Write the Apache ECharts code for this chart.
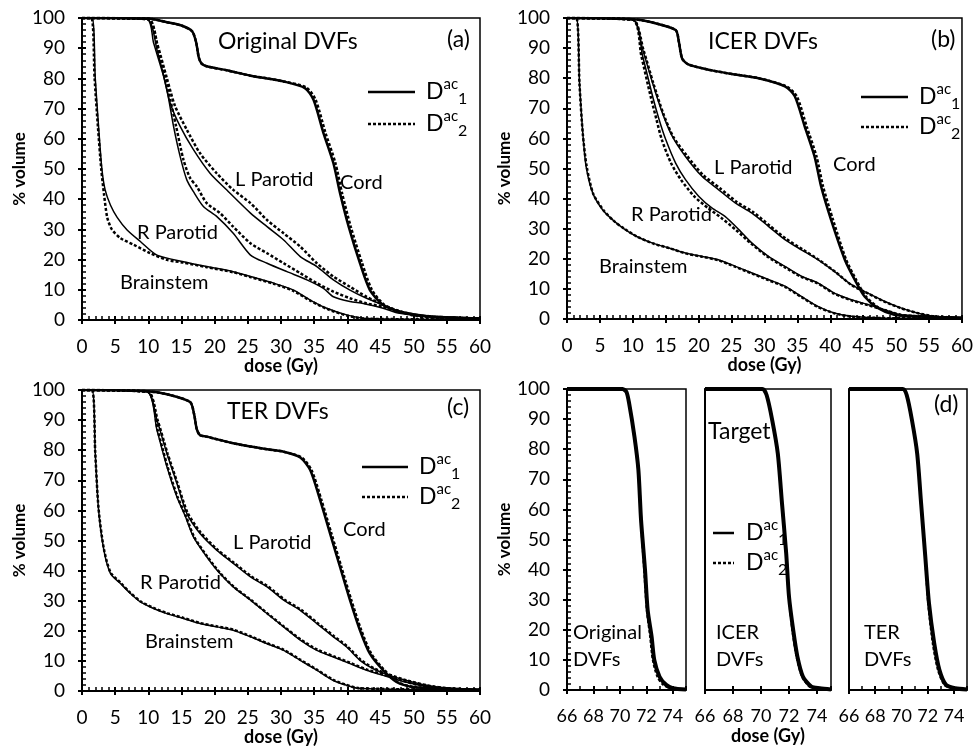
<!DOCTYPE html>
<html>
<head>
<meta charset="utf-8">
<script src="https://cdn.jsdelivr.net/npm/echarts@6/dist/echarts.min.js"></script>
<style>
html, body { margin: 0; padding: 0; background: #fff; }
#main { width: 976px; height: 748px; }
</style>
</head>
<body>
<div id="main"></div>
<script>
// ---- data: [dose (Gy), % volume] ----
// (a) Original DVFs
var cordA1 = [[0,100],[10,99.8],[12.8,98.6],[15,97.5],[16.6,95.6],[17.2,92],[17.6,87],[18,85],[18.8,84],[21.8,82.7],[25.4,80.9],[27.9,80],[30.4,79],[33.6,76.8],[34.9,72.9],[36.4,61.9],[37.9,51.9],[38.9,42],[40.2,30.9],[41.9,18.8],[43.4,9.9],[45.4,5],[47.9,2.8],[50.5,1.7],[53,1.1],[60,0.5]];
var cordA2 = [[0,100],[10,99.8],[12.8,98.6],[15,97.5],[16.6,95.6],[17.2,92],[17.6,87],[18,85],[18.8,84],[21.8,82.7],[25.4,80.9],[27.9,80],[30.4,79],[33.8,77],[35.2,73],[36.7,62],[38.2,52],[39.2,42],[40.5,31],[42.2,19],[43.7,10],[45.6,5],[48,2.8],[50.5,1.7],[53,1.1],[60,0.5]];
var lparA1 = [[0,100],[9.8,99.6],[10.8,91.7],[12.3,80.7],[13.3,71.8],[14.8,64.1],[16.8,56.4],[19.3,48.6],[21.8,43.1],[25.4,35.4],[27.9,30.9],[30.4,26.5],[32.9,21],[35.4,17.7],[37.9,13.3],[40.4,9.9],[42.9,7.2],[45.4,5],[47.9,2.8],[50.5,1.3],[55,0.7],[60,0.5]];
var lparA2 = [[0,100],[10,99.6],[11.3,91.7],[12.8,80],[14,71],[15.8,63],[17.8,55.2],[20.3,48.6],[22.8,43.1],[25.4,38.7],[27.9,33.1],[30.4,28.7],[32.9,24.3],[35.4,18.8],[37.9,14.4],[40.4,11],[42.9,7.7],[45.4,5],[47.9,2.8],[50.5,1.3],[55,0.7],[60,0.5]];
var rparA1 = [[0,100],[9.8,99.6],[11.3,89.5],[12.8,76.2],[13.8,64.1],[14.8,54.1],[15.8,46.4],[16.8,42.5],[18.3,37.6],[20.3,34.3],[22.8,28.7],[25.4,21.5],[27.9,18.8],[30.9,16],[33.9,13.3],[36.4,10.5],[37.9,7.7],[40.4,6.1],[42.4,5.5],[45.4,3.9],[47.9,2.2],[53,1.1],[60,0.5]];
var rparA2 = [[0,100],[10,99.6],[11.5,89.5],[13,76],[14.2,64],[15.3,53],[16.3,47],[17.3,44.2],[18.8,38.7],[20.8,35.4],[22.8,30.9],[25.4,25.4],[27.9,22.1],[30.4,18.8],[32.9,15.5],[35.4,12.2],[37.9,9.4],[40.4,7.2],[42.9,5.5],[45.4,4.4],[47.9,2.6],[53,1.1],[60,0.5]];
var brainA1 = [[0,100],[1.5,100],[2,80],[2.5,64],[3,50],[3.5,43],[4.3,38],[5.3,34],[6.8,29.8],[8.8,26],[11.3,21.5],[15.3,19.3],[18.8,17.7],[22.8,16],[25.4,14.4],[28.9,12.2],[31.9,9.9],[34.4,6.6],[36.9,3.9],[39.9,1.7],[42.9,0.5],[60,0.2]];
var brainA2 = [[0,100],[1.4,100],[1.9,80],[2.4,64],[2.9,50],[3.3,42],[3.8,34],[4.5,30],[5.8,27.1],[7.8,24.9],[10.3,22.1],[12.8,19.9],[15.3,19],[18.8,17.5],[22.8,15.8],[25.4,14.2],[28.9,12],[31.9,9.6],[34.4,6.4],[36.9,3.7],[39.9,1.5],[42.9,0.4],[60,0.2]];

// (b) ICER DVFs
var cordB1 = [[0,100],[10,99.6],[13,98.5],[16.5,96],[17,92],[17.5,86.5],[18.5,84.5],[22,82.6],[25.6,81.2],[29.1,80],[33.1,77.3],[34.6,74],[36.1,64],[37.6,54],[38.6,44],[40.1,33],[42.2,19.7],[43.7,13.1],[45.2,7.5],[47.2,3.7],[49.7,1.4],[53.2,0.9],[60,0.3]];
var cordB2 = [[0,100],[10,99.6],[13,98.5],[16.5,96],[17,92],[17.5,86.5],[18.5,84.5],[22,82.6],[25.6,81.2],[29.1,80],[33.3,77.3],[34.9,74],[36.4,64],[37.9,54],[38.9,44],[40.4,33],[42.4,19.7],[43.9,13.1],[45.4,7.5],[47.4,3.7],[49.9,1.4],[53.2,0.9],[60,0.3]];
var lparB1 = [[0,100],[10,99.4],[11.5,89.5],[13,78.4],[14.5,68.4],[16,60.7],[18,54],[20.5,47.4],[23,43],[25.6,38.5],[28.1,35.2],[30.6,30.8],[33.1,26.4],[35.6,23],[38.1,19.7],[40.6,15.8],[43.2,11.4],[45.7,8.6],[48.2,5.9],[50.7,3.7],[53.2,2],[55.7,0.9],[60,0.4]];
var lparB2 = [[0,100],[10,99.4],[11.6,89.5],[13.1,78.4],[14.6,68.4],[16.1,60.7],[18.2,54.3],[20.7,47.8],[23.2,43.5],[25.8,38.9],[28.3,35.5],[30.8,31],[33.3,26.6],[35.8,23.1],[38.3,19.6],[40.8,15.6],[43.2,11.3],[45.7,8.5],[48.2,5.8],[50.7,3.6],[53.2,2],[55.7,0.9],[60,0.4]];
var rparB1 = [[0,100],[10,99.4],[11.5,87.3],[13,74],[14,66.2],[15,59.6],[16.5,51.8],[18,46.3],[20,40.8],[22,36.9],[24,34.1],[26.1,29.7],[28.1,25.2],[30.6,20.8],[33.1,17.5],[35.6,14.2],[38.1,12],[40.6,8.6],[43.2,6.4],[45.7,4.8],[48.2,3.1],[50.7,1.4],[53.2,0.9],[60,0.4]];
var rparB2 = [[0,100],[10,99.4],[11.3,87.3],[12.7,74],[13.6,66.2],[14.4,59.6],[15.8,51.8],[17.3,46.3],[19.3,40.8],[21.4,36.9],[23.5,33.5],[25.7,29.5],[27.9,25.2],[30.4,20.8],[33,17.3],[35.6,14],[38.1,11.8],[40.6,8.4],[43.2,6.2],[45.7,4.6],[48.2,3],[50.7,1.4],[53.2,0.9],[60,0.4]];
var brainB1 = [[0,100],[1.4,100],[1.9,78.4],[2.4,61.8],[2.9,50.7],[3.9,41.9],[5.4,36.3],[6.9,33],[8.5,30.2],[10.5,27.5],[13,25.2],[15.5,23.6],[18,21.9],[20.5,20.8],[23,19.7],[25.6,17.5],[28.1,15.3],[30.6,13.1],[33.1,10.9],[35.6,7.5],[38.1,4.2],[40.6,2],[43.2,0.9],[48.2,0.3],[60,0.2]];
var brainB2 = [[0,100],[1.4,100],[1.9,78],[2.4,61.5],[3,50.5],[4,41.5],[5.6,36],[7.1,32.6],[8.7,30],[10.7,27.3],[13.2,25],[15.6,23.5],[18,21.8],[20.5,20.7],[23,19.5],[25.6,17.3],[28.1,15.1],[30.6,12.9],[33.1,10.7],[35.6,7.3],[38.1,4],[40.6,1.9],[43.2,0.8],[48.2,0.3],[60,0.2]];

// (c) TER DVFs
var cordC1 = [[0,100],[9.8,99.6],[13,98.5],[16.3,96],[16.9,92],[17.3,87],[17.8,85],[18.8,84.5],[22.8,82.3],[27.9,80.3],[30.4,79.5],[32.9,77.6],[34.4,73.4],[35.9,63.4],[37.4,52.3],[38.9,41.2],[40.4,30.2],[41.9,20.2],[43.4,12.4],[45.4,6.9],[47.4,3],[49.9,1.3],[60,0.4]];
var cordC2 = [[0,100],[9.8,99.6],[13,98.5],[16.3,96],[16.9,92],[17.3,87],[17.8,85],[18.8,84.5],[22.8,82.3],[27.9,80.3],[30.4,79.5],[33.1,77.6],[34.6,73.4],[36.1,63.4],[37.6,52.3],[39.1,41.2],[40.6,30.2],[42.1,20.2],[43.6,12.4],[45.6,6.9],[47.6,3],[50,1.3],[60,0.4]];
var lparC1 = [[0,100],[9.8,99.4],[11.3,90],[12.8,78.9],[14.3,69],[15.8,59],[17.8,52.3],[20.3,46.8],[22.8,42.4],[25.4,37.9],[27.9,34.6],[30.4,30.2],[32.9,26.8],[35.4,22.4],[37.9,18],[39.9,14.6],[41.9,10.2],[43.9,7.4],[46.4,5.2],[48.9,3.5],[52,1.9],[55.5,0.8],[60,0.4]];
var lparC2 = [[0,100],[9.9,99.4],[11.4,90],[12.9,78.9],[14.4,69],[15.9,59.3],[17.9,52.6],[20.4,47],[22.9,42.6],[25.5,38.1],[28,34.8],[30.5,30.4],[33,27],[35.5,22.6],[38,18.2],[40,14.8],[42,10.4],[44,7.5],[46.5,5.3],[49,3.5],[52,1.9],[55.5,0.8],[60,0.4]];
var rparC1 = [[0,100],[9.8,99.4],[11.3,86.7],[12.8,74.5],[14.3,64.5],[15.6,57.9],[16.8,51.2],[18.8,44.6],[20.8,39],[22.8,34.6],[25.4,30.2],[27.9,25.7],[30.4,21.3],[32.9,16.9],[35.4,13.5],[37.9,11.3],[40.4,9.1],[42.9,6.9],[45.4,5.2],[47.9,3.5],[51,1.9],[55.5,0.8],[60,0.4]];
var rparC2 = [[0,100],[9.9,99.4],[11.4,86.7],[12.9,74.5],[14.4,64.5],[15.7,57.9],[16.9,51.2],[18.9,44.6],[20.9,39],[22.9,34.6],[25.5,30.2],[28,25.7],[30.5,21.3],[33,17.1],[35.5,13.7],[38,11.5],[40.5,9.3],[43,7.1],[45.5,5.4],[48,3.6],[51,1.9],[55.5,0.8],[60,0.4]];
var brainC1 = [[0,100],[1.5,100],[2,78.9],[2.5,60.1],[3.3,46.8],[4.3,39],[5.8,35.7],[7.3,32.4],[8.8,29.6],[10.8,27.4],[12.8,25.7],[15.3,24.1],[17.8,22.4],[20.3,21.3],[22.8,20.2],[25.4,18],[27.9,15.7],[30.4,13.5],[32.9,10.2],[35.4,6.9],[37.9,3.5],[39.9,1.9],[41.9,0.8],[60,0.3]];
var brainC2 = [[0,100],[1.5,100],[2,79],[2.5,60.5],[3.3,47.2],[4.3,39.4],[5.8,36],[7.3,32.6],[8.8,29.8],[10.8,27.6],[12.8,25.9],[15.3,24.3],[17.8,22.6],[20.3,21.5],[22.8,20.4],[25.4,18.2],[27.9,15.9],[30.4,13.7],[32.9,10.4],[35.4,7.1],[37.9,3.7],[39.9,2],[41.9,0.9],[60,0.3]];

// (d) Target
var tgtOrig1 = [[66,100],[70.2,100],[70.5,99],[70.7,95.2],[71.1,84.2],[71.4,73.1],[71.6,56.5],[71.9,39.9],[72.1,26.6],[72.4,17.7],[72.6,10],[73,4.4],[73.5,1.7],[74,0.6],[75,0.2]];
var tgtOrig2 = [[66,100],[70.2,100],[70.5,99],[70.7,95.2],[71.1,84.2],[71.4,73.1],[71.6,56.5],[71.85,39.9],[72.05,26.6],[72.3,17.7],[72.5,10],[72.85,4.4],[73.3,1.7],[73.9,0.6],[75,0.2]];
var tgtIcer1 = [[66,100],[70.1,100],[70.4,98],[70.8,89.7],[71.2,78.6],[71.5,62],[71.8,45.4],[72,31],[72.3,19.9],[72.6,11.1],[73,4.4],[73.6,1.1],[74.2,0.6],[75,0.2]];
var tgtIcer2 = [[66,100],[70.1,100],[70.4,98],[70.8,89.7],[71.2,78.6],[71.5,62],[71.8,45.4],[72,31],[72.25,19.9],[72.55,11.1],[72.95,4.4],[73.5,1.1],[74.2,0.6],[75,0.2]];
var tgtTer1 = [[66,100],[70.1,100],[70.4,98],[70.8,89.7],[71.2,78.6],[71.5,62],[71.8,45.4],[72.1,28.8],[72.5,15.5],[72.9,6.6],[73.4,1.7],[74.1,0.6],[75,0.2]];
var tgtTer2 = [[66,100],[70.1,100],[70.4,98],[70.8,89.7],[71.2,78.6],[71.5,62],[71.8,45.4],[72.05,28.8],[72.4,15.5],[72.8,6.6],[73.3,1.7],[74,0.6],[75,0.2]];

var FONT = 'Lato';
var myChart = echarts.init(document.getElementById('main'));

var grids = [
  { left: 82, top: 18, width: 398, height: 302 },
  { left: 567, top: 18, width: 397, height: 301 },
  { left: 82, top: 390, width: 398, height: 301 },
  { left: 567, top: 389, width: 119, height: 301 },
  { left: 705, top: 389, width: 126, height: 301 },
  { left: 849, top: 389, width: 118, height: 301 }
].map(function (g) {
  return Object.assign({ show: true, borderColor: '#000', borderWidth: 1.5, backgroundColor: 'transparent' }, g);
});

var xAxes = [], yAxes = [];
var lineBlack = { color: '#000', width: 2 };

// main axis (labels, outer ticks) + second axis with inner ticks, so ticks cross the line
function addX(gi, min, max, interval, minorSplit, name, fs) {
  xAxes.push({
    gridIndex: gi, type: 'value', position: 'bottom', min: min, max: max, interval: interval,
    axisLine: { lineStyle: lineBlack },
    axisTick: { length: 4, lineStyle: lineBlack },
    axisLabel: { color: '#000', fontSize: fs, fontFamily: FONT, margin: 17, showMaxLabel: max !== 75 },
    splitLine: { show: false },
    name: name, nameLocation: 'middle', nameGap: 37,
    nameTextStyle: { color: '#000', fontSize: 18, fontWeight: 'bold', fontFamily: FONT }
  });
  var idx = xAxes.length - 1;
  xAxes.push({
    gridIndex: gi, type: 'value', position: 'bottom', min: min, max: max, interval: interval,
    axisLine: { show: false },
    axisTick: { inside: true, length: 4, lineStyle: lineBlack },
    minorTick: { show: minorSplit > 0, splitNumber: minorSplit || 2, length: 4, lineStyle: { color: '#000', width: 1.5 } },
    axisLabel: { show: false }, splitLine: { show: false }
  });
  return idx;
}
function addY(gi, withTicks) {
  yAxes.push({
    gridIndex: gi, type: 'value', position: 'left', min: 0, max: 100, interval: 10,
    axisLine: { lineStyle: lineBlack },
    axisTick: { show: withTicks, length: 4, lineStyle: lineBlack },
    axisLabel: { show: withTicks, color: '#000', fontSize: 19, fontFamily: FONT, margin: 17 },
    splitLine: { show: false },
    name: withTicks ? '% volume' : '', nameLocation: 'middle', nameGap: 54,
    nameTextStyle: { color: '#000', fontSize: 17, fontWeight: 'bold', fontFamily: FONT }
  });
  var idx = yAxes.length - 1;
  if (withTicks) {
    yAxes.push({
      gridIndex: gi, type: 'value', position: 'left', min: 0, max: 100, interval: 10,
      axisLine: { show: false },
      axisTick: { inside: true, length: 4, lineStyle: lineBlack },
      minorTick: { show: true, splitNumber: 5, length: 4, lineStyle: { color: '#000', width: 1.5 } },
      axisLabel: { show: false }, splitLine: { show: false }
    });
  }
  return idx;
}

var series = [];
function addLine(data, xi, yi, width, dotted) {
  series.push({
    type: 'line', data: data, xAxisIndex: xi, yAxisIndex: yi,
    symbol: 'none', smooth: 0.25, silent: true,
    z: dotted ? 2 : 3,
    lineStyle: { color: '#000', width: width, type: dotted ? [3, 2] : 'solid' }
  });
}

var organPanels = [
  [cordA1, cordA2, lparA1, lparA2, rparA1, rparA2, brainA1, brainA2],
  [cordB1, cordB2, lparB1, lparB2, rparB1, rparB2, brainB1, brainB2],
  [cordC1, cordC2, lparC1, lparC2, rparC1, rparC2, brainC1, brainC2]
];
organPanels.forEach(function (p, gi) {
  var xi = addX(gi, 0, 60, 5, 5, 'dose (Gy)', 19);
  var yi = addY(gi, true);
  addLine(p[1], xi, yi, 2.5, true);
  addLine(p[0], xi, yi, 2.5, false);
  for (var k = 2; k < 8; k += 2) {
    addLine(p[k + 1], xi, yi, 2.5, true);
    addLine(p[k], xi, yi, 1.5, false);
  }
});

var targets = [[tgtOrig1, tgtOrig2], [tgtIcer1, tgtIcer2], [tgtTer1, tgtTer2]];
targets.forEach(function (t, j) {
  var gi = 3 + j;
  var xi = addX(gi, 66, 75, 2, j === 1 ? 0 : 2, j === 1 ? 'dose (Gy)' : '', 18);
  var yi = addY(gi, j === 0);
  addLine(t[1], xi, yi, 2.5, true);
  addLine(t[0], xi, yi, 4, false);
});

// annotations
var graphics = [];
function txt(x, y, s, size) {
  graphics.push({ type: 'text', x: x, y: y, silent: true,
    style: { text: s, fill: '#000', font: size + 'px ' + FONT, textAlign: 'left', textVerticalAlign: 'middle' } });
}
function legendAt(x1, x2, y1, y2, tx) {
  graphics.push({ type: 'line', silent: true, shape: { x1: x1, y1: y1, x2: x2, y2: y1 }, style: { stroke: '#000', lineWidth: 2.5 } });
  graphics.push({ type: 'line', silent: true, shape: { x1: x1, y1: y2, x2: x2, y2: y2 }, style: { stroke: '#000', lineWidth: 2.5, lineDash: [3, 2] } });
  [[y1, '1'], [y2, '2']].forEach(function (r) {
    graphics.push({ type: 'text', x: tx, y: r[0], silent: true,
      style: {
        text: '{d|D}{sup|ac}{sub|' + r[1] + '}', fill: '#000', textAlign: 'left', textVerticalAlign: 'middle',
        rich: {
          d: { fontSize: 23, fontFamily: FONT, lineHeight: 30, verticalAlign: 'middle' },
          sup: { fontSize: 15, fontFamily: FONT, lineHeight: 20, verticalAlign: 'top' },
          sub: { fontSize: 16, fontFamily: FONT, lineHeight: 12, verticalAlign: 'bottom' }
        }
      } });
  });
}

txt(218, 42, 'Original DVFs', 23); txt(447, 40, '(a)', 23);
txt(235, 180, 'L Parotid', 20); txt(340, 183, 'Cord', 20);
txt(137, 233, 'R Parotid', 20); txt(120, 283, 'Brainstem', 20);
legendAt(368, 415, 92, 124, 426);

txt(708, 42, 'ICER DVFs', 23); txt(931, 40, '(b)', 23);
txt(714, 168, 'L Parotid', 20); txt(833, 165, 'Cord', 20);
txt(631, 215, 'R Parotid', 20); txt(599, 267, 'Brainstem', 20);
legendAt(861, 908, 97, 127, 919);

txt(227, 412, 'TER DVFs', 23); txt(447, 408, '(c)', 23);
txt(233, 543, 'L Parotid', 20); txt(343, 530, 'Cord', 20);
txt(140, 583, 'R Parotid', 20); txt(145, 642, 'Brainstem', 20);
legendAt(362, 408, 467, 497, 419);

txt(934, 405, '(d)', 23); txt(708, 432, 'Target', 23);
txt(573, 633, 'Original', 20); txt(573, 660, 'DVFs', 20);
txt(716, 633, 'ICER', 20); txt(716, 660, 'DVFs', 20);
txt(864, 633, 'TER', 20); txt(864, 660, 'DVFs', 20);
legendAt(713, 734, 533, 563, 746);

var option = {
  animation: false,
  backgroundColor: '#fff',
  grid: grids,
  xAxis: xAxes,
  yAxis: yAxes,
  series: series,
  graphic: graphics
};

myChart.setOption(option);
</script>
</body>
</html>
